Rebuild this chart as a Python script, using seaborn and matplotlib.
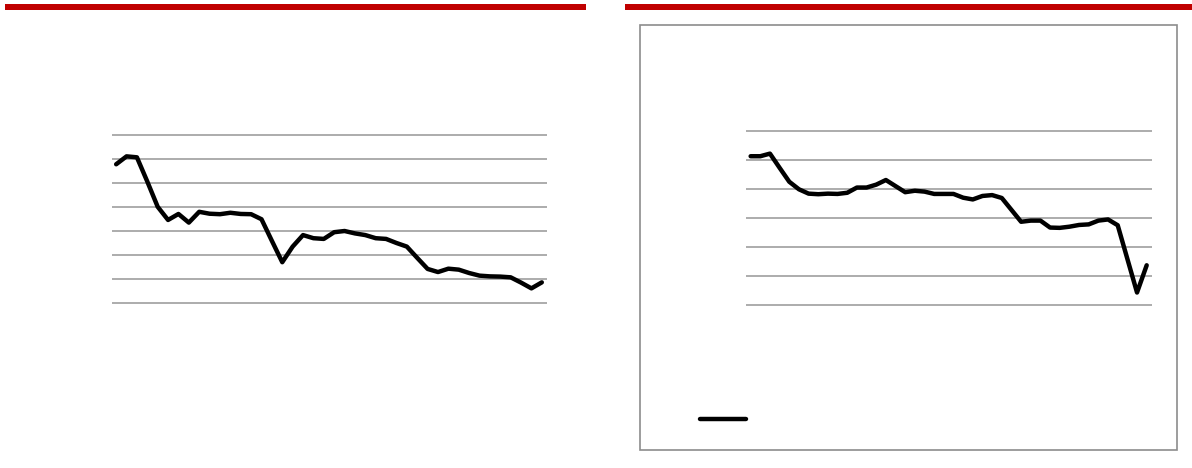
import pandas as pd
import matplotlib.pyplot as plt
import seaborn as sns
from matplotlib.patches import Rectangle
from matplotlib.lines import Line2D

# left panel series (42 periods)
left_vals = [57.8, 61.1, 60.7, 50.6, 40.1, 34.6, 37.1, 33.5, 38.0, 37.2,
             37.0, 37.6, 37.1, 37.0, 34.9, 25.9, 17.0, 23.5, 28.3, 27.0,
             26.7, 29.5, 30.0, 29.0, 28.3, 27.0, 26.7, 25.0, 23.5, 18.8,
             14.2, 12.9, 14.3, 13.9, 12.5, 11.4, 11.1, 11.0, 10.7, 8.5,
             6.1, 8.6]

# right panel series (42 periods)
right_vals = [51.3, 51.3, 52.2, 47.3, 42.5, 39.9, 38.4, 38.2, 38.4, 38.3,
              38.7, 40.5, 40.5, 41.5, 43.1, 41.0, 38.9, 39.4, 39.1, 38.3,
              38.3, 38.3, 37.0, 36.4, 37.6, 37.9, 36.9, 32.8, 28.7, 29.1,
              29.1, 26.7, 26.6, 27.0, 27.6, 27.8, 29.1, 29.5, 27.5, 15.9,
              4.3, 13.7]

left_df = pd.DataFrame({'t': range(len(left_vals)), 'v': left_vals})
right_df = pd.DataFrame({'t': range(len(right_vals)), 'v': right_vals})

sns.set_style("white")
fig = plt.figure(figsize=(11.92, 4.68), dpi=100)

red = '#c00000'
grid_c = '#a6a6a6'
lw = 3.2

# red header bars
fig.add_artist(Rectangle((5/1192, 1-10/468), 581/1192, 6/468, color=red, lw=0))
fig.add_artist(Rectangle((625/1192, 1-10/468), 567/1192, 6/468, color=red, lw=0))

# frame round the right panel
fig.add_artist(Rectangle((640/1192, 1-450/468), 537/1192, 425/468,
                         fill=False, edgecolor='#8c8c8c', lw=1.2))


def style(ax, top):
    ax.set_yticks(range(0, top + 1, 10))
    ax.yaxis.grid(True, color=grid_c, lw=1.3)
    ax.xaxis.grid(False)
    ax.tick_params(length=0, labelleft=False, labelbottom=False)
    for s in ax.spines.values():
        s.set_visible(False)
    ax.set_xlabel('')
    ax.set_ylabel('')
    ax.patch.set_alpha(0)


ax1 = fig.add_axes([112/1192, 1-305/468, 435/1192, 172/468])
sns.lineplot(data=left_df, x='t', y='v', ax=ax1, color='black', lw=lw)
ax1.set_xlim(-0.4, 41.5)
ax1.set_ylim(-0.83, 70.83)
style(ax1, 70)

ax2 = fig.add_axes([746/1192, 1-307/468, 406/1192, 178/468])
sns.lineplot(data=right_df, x='t', y='v', ax=ax2, color='black', lw=lw)
ax2.set_xlim(-0.48, 41.55)
ax2.set_ylim(-0.69, 60.69)
style(ax2, 60)

# legend sample with no label text
ax2.legend([Line2D([], [], color='black', lw=lw)], [''],
           loc='center left', bbox_to_anchor=(693/1192, 1-420/468),
           bbox_transform=fig.transFigure, frameon=False,
           handlelength=3.3, borderpad=0, handletextpad=0)

fig.savefig('out.png', dpi=100)
